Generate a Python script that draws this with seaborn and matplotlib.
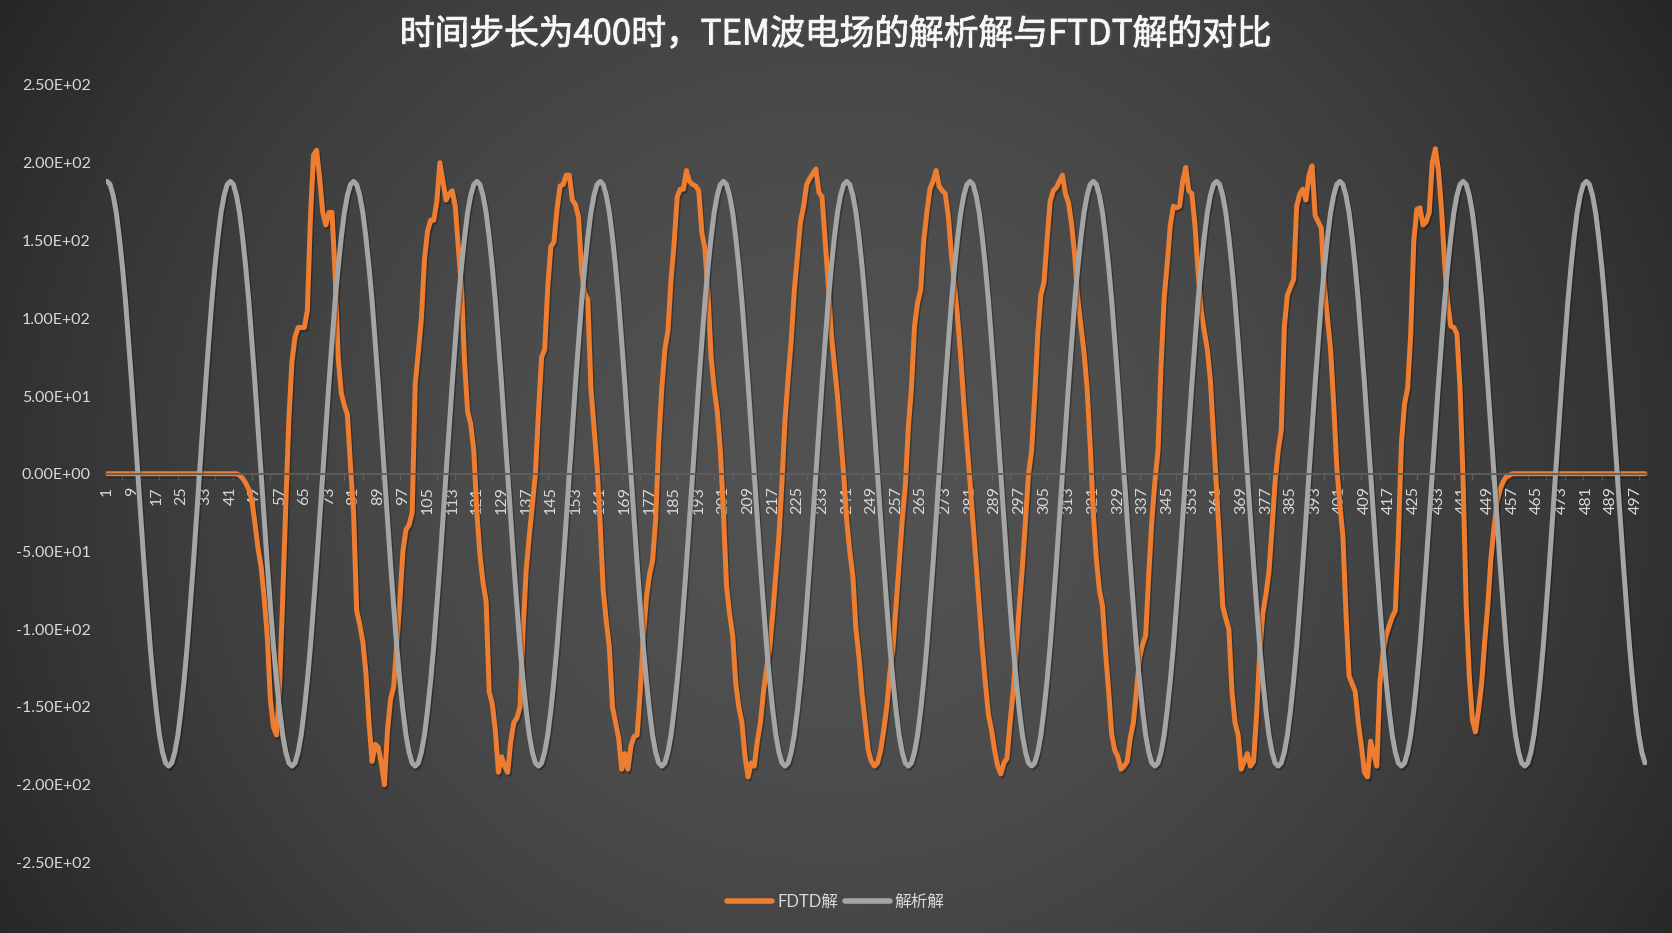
import numpy as np
import pandas as pd
import matplotlib
matplotlib.use("Agg")
import matplotlib.pyplot as plt
import matplotlib.patheffects as pe
from matplotlib.lines import Line2D
import seaborn as sns

# time step index (category axis)
steps = list(range(1, 501))

# analytic solution
analytic = [
    188, 186, 179, 168, 152, 133, 111, 85, 58, 29, 0, -29, -58, -85, -111, -133, -152, -168, -179, -186,
    -188, -186, -179, -168, -152, -133, -111, -85, -58, -29, 0, 29, 58, 85, 111, 133, 152, 168, 179, 186,
    188, 186, 179, 168, 152, 133, 111, 85, 58, 29, 0, -29, -58, -85, -111, -133, -152, -168, -179, -186,
    -188, -186, -179, -168, -152, -133, -111, -85, -58, -29, 0, 29, 58, 85, 111, 133, 152, 168, 179, 186,
    188, 186, 179, 168, 152, 133, 111, 85, 58, 29, 0, -29, -58, -85, -111, -133, -152, -168, -179, -186,
    -188, -186, -179, -168, -152, -133, -111, -85, -58, -29, 0, 29, 58, 85, 111, 133, 152, 168, 179, 186,
    188, 186, 179, 168, 152, 133, 111, 85, 58, 29, 0, -29, -58, -85, -111, -133, -152, -168, -179, -186,
    -188, -186, -179, -168, -152, -133, -111, -85, -58, -29, 0, 29, 58, 85, 111, 133, 152, 168, 179, 186,
    188, 186, 179, 168, 152, 133, 111, 85, 58, 29, 0, -29, -58, -85, -111, -133, -152, -168, -179, -186,
    -188, -186, -179, -168, -152, -133, -111, -85, -58, -29, 0, 29, 58, 85, 111, 133, 152, 168, 179, 186,
    188, 186, 179, 168, 152, 133, 111, 85, 58, 29, 0, -29, -58, -85, -111, -133, -152, -168, -179, -186,
    -188, -186, -179, -168, -152, -133, -111, -85, -58, -29, 0, 29, 58, 85, 111, 133, 152, 168, 179, 186,
    188, 186, 179, 168, 152, 133, 111, 85, 58, 29, 0, -29, -58, -85, -111, -133, -152, -168, -179, -186,
    -188, -186, -179, -168, -152, -133, -111, -85, -58, -29, 0, 29, 58, 85, 111, 133, 152, 168, 179, 186,
    188, 186, 179, 168, 152, 133, 111, 85, 58, 29, 0, -29, -58, -85, -111, -133, -152, -168, -179, -186,
    -188, -186, -179, -168, -152, -133, -111, -85, -58, -29, 0, 29, 58, 85, 111, 133, 152, 168, 179, 186,
    188, 186, 179, 168, 152, 133, 111, 85, 58, 29, 0, -29, -58, -85, -111, -133, -152, -168, -179, -186,
    -188, -186, -179, -168, -152, -133, -111, -85, -58, -29, 0, 29, 58, 85, 111, 133, 152, 168, 179, 186,
    188, 186, 179, 168, 152, 133, 111, 85, 58, 29, 0, -29, -58, -85, -111, -133, -152, -168, -179, -186,
    -188, -186, -179, -168, -152, -133, -111, -85, -58, -29, 0, 29, 58, 85, 111, 133, 152, 168, 179, 186,
    188, 186, 179, 168, 152, 133, 111, 85, 58, 29, 0, -29, -58, -85, -111, -133, -152, -168, -179, -186,
    -188, -186, -179, -168, -152, -133, -111, -85, -58, -29, 0, 29, 58, 85, 111, 133, 152, 168, 179, 186,
    188, 186, 179, 168, 152, 133, 111, 85, 58, 29, 0, -29, -58, -85, -111, -133, -152, -168, -179, -186,
    -188, -186, -179, -168, -152, -133, -111, -85, -58, -29, 0, 29, 58, 85, 111, 133, 152, 168, 179, 186,
    188, 186, 179, 168, 152, 133, 111, 85, 58, 29, 0, -29, -58, -85, -111, -133, -152, -168, -179, -186,
]

# FDTD solution
fdtd = [
    0, 0, 0, 0, 0, 0, 0, 0, 0, 0, 0, 0, 0, 0, 0, 0, 0, 0, 0, 0,
    0, 0, 0, 0, 0, 0, 0, 0, 0, 0, 0, 0, 0, 0, 0, 0, 0, 0, 0, 0,
    0, 0, 0, -1, -3, -6, -10, -17, -32, -48, -60, -80, -105, -145, -163, -168, -135, -80, -20, 35,
    72, 88, 94, 94, 94, 105, 165, 205, 208, 190, 168, 160, 168, 168, 128, 75, 52, 44, 38, 5,
    -25, -88, -97, -108, -128, -160, -185, -174, -176, -186, -200, -165, -145, -137, -110, -82, -50, -36, -33, -25,
    58, 78, 100, 138, 156, 163, 163, 175, 200, 188, 176, 180, 182, 172, 145, 120, 72, 40, 32, 15,
    -25, -52, -70, -82, -140, -148, -165, -192, -182, -188, -192, -172, -160, -157, -150, -100, -62, -40, -20, 0,
    40, 75, 80, 120, 146, 149, 170, 185, 186, 192, 192, 176, 173, 165, 130, 116, 112, 55, 30, 5,
    -32, -75, -95, -112, -150, -160, -170, -190, -180, -190, -175, -169, -168, -140, -105, -80, -65, -56, -30, 20,
    55, 80, 92, 125, 148, 178, 183, 183, 195, 188, 186, 185, 182, 155, 145, 115, 75, 55, 40, 15,
    -25, -72, -90, -104, -135, -150, -160, -182, -195, -186, -188, -172, -160, -140, -125, -112, -90, -65, -40, -5,
    35, 62, 86, 118, 140, 162, 172, 186, 190, 193, 196, 181, 178, 150, 122, 90, 70, 50, 25, 0,
    -30, -50, -66, -100, -118, -142, -160, -178, -185, -188, -186, -178, -165, -150, -128, -112, -85, -58, -30, -8,
    30, 55, 95, 110, 118, 150, 168, 183, 188, 195, 185, 182, 180, 165, 140, 120, 100, 75, 45, 20,
    -5, -32, -58, -85, -112, -135, -155, -165, -178, -188, -193, -186, -183, -160, -140, -112, -85, -60, -30, 0,
    15, 50, 90, 115, 123, 150, 175, 182, 184, 188, 192, 180, 174, 160, 140, 112, 95, 78, 55, 18,
    -25, -55, -75, -85, -115, -140, -168, -178, -182, -190, -188, -185, -170, -160, -140, -118, -110, -104, -65, -30,
    -5, 15, 70, 113, 135, 160, 172, 171, 172, 188, 197, 182, 180, 160, 130, 105, 92, 80, 60, 25,
    -10, -45, -85, -93, -100, -140, -160, -168, -190, -185, -180, -188, -185, -155, -115, -90, -78, -63, -35, -5,
    15, 28, 95, 115, 120, 125, 172, 180, 183, 176, 192, 198, 166, 162, 158, 120, 100, 80, 45, 5,
    -20, -40, -90, -130, -135, -140, -160, -175, -192, -195, -172, -180, -188, -135, -115, -104, -98, -92, -88, -40,
    20, 45, 55, 90, 150, 170, 171, 160, 162, 168, 200, 209, 195, 170, 135, 110, 95, 94, 90, 55,
    -5, -85, -130, -158, -166, -152, -135, -108, -85, -55, -35, -18, -10, -5, -2, -1, 0, 0, 0, 0,
    0, 0, 0, 0, 0, 0, 0, 0, 0, 0, 0, 0, 0, 0, 0, 0, 0, 0, 0, 0,
    0, 0, 0, 0, 0, 0, 0, 0, 0, 0, 0, 0, 0, 0, 0, 0, 0, 0, 0, 0,
]

series_names = ["FDTD解", "解析解"]
series_colors = ["#ED7D31", "#A5A5A5"]
title_text = "时间步长为400时，TEM波电场的解析解与FTDT解的对比"
y_ticks = [250, 200, 150, 100, 50, 0, -50, -100, -150, -200, -250]
x_label_steps = list(range(1, 501, 8))
x_minor_steps = list(range(6, 501, 6))

plt.rcParams["font.family"] = ["Lato", "Noto Sans CJK SC", "DejaVu Sans"]
text_color = "#D9D9D9"

df = pd.DataFrame({
    "step": steps + steps,
    "E": fdtd + analytic,
    "series": [series_names[0]] * len(fdtd) + [series_names[1]] * len(analytic),
})

W, H = 1672, 933
fig = plt.figure(figsize=(W / 100, H / 100), dpi=100)

# excel style radial background
bg = fig.add_axes([0, 0, 1, 1], zorder=-10)
yy, xx = np.mgrid[0:H, 0:W]
r = np.sqrt(((xx - W * 0.5) / (W * 0.45)) ** 2 + ((yy - H * 0.52) / (H * 0.75)) ** 2)
shade = np.clip(82 - 27 * r ** 1.8, 38, 90) / 255.0
bg.imshow(np.dstack([shade, shade, shade]), aspect="auto", extent=[0, 1, 0, 1])
bg.axis("off")

ax = fig.add_axes([105.5 / W, (H - 862.5) / H, 1541 / W, 777.5 / H])
ax.set_facecolor("none")
ax.set_axisbelow(True)

sns.lineplot(data=df, x="step", y="E", hue="series", hue_order=series_names,
             palette=dict(zip(series_names, series_colors)), estimator=None,
             linewidth=3.6, legend=False, ax=ax)
for ln in ax.get_lines():
    ln.set_solid_capstyle("round")
    ln.set_solid_joinstyle("round")
    ln.set_path_effects([pe.SimpleLineShadow(offset=(1, -1.5), alpha=0.3), pe.Normal()])

ax.set_xlim(0.5, 500.5)
ax.set_ylim(-250, 250)
ax.set_xlabel("")
ax.set_ylabel("")

ax.set_yticks(y_ticks)
ax.set_yticklabels([f"{v:.2E}" for v in y_ticks])
ax.tick_params(axis="y", length=0, pad=10.5, labelsize=11.5, labelcolor=text_color)

ax.set_xticks(x_label_steps)
ax.set_xticklabels([str(s) for s in x_label_steps])
ax.set_xticks(x_minor_steps, minor=True)
ax.tick_params(axis="x", which="major", length=0, pad=9, labelsize=11.5,
               labelcolor=text_color, labelrotation=90)
ax.tick_params(axis="x", which="minor", length=4, width=1, color="#606060", direction="out")

for side in ["top", "right", "left"]:
    ax.spines[side].set_visible(False)
ax.spines["bottom"].set_position(("data", 0))
ax.spines["bottom"].set_color("#5E5E5E")
ax.spines["bottom"].set_linewidth(1.3)
ax.grid(False)

fig.text(0.5, 1 - 35 / H, title_text, ha="center", va="center", fontsize=25,
         color="#F7F7F7", family=["Noto Sans CJK SC", "DejaVu Sans"],
         path_effects=[pe.withStroke(linewidth=0.8, foreground="#F7F7F7"),
                       pe.SimplePatchShadow(offset=(2, -2), alpha=0.7), pe.Normal()])

handles = [Line2D([0], [0], color=c, linewidth=4, solid_capstyle="round") for c in series_colors]
fig.legend(handles, series_names, loc="center", bbox_to_anchor=(0.5, 1 - 902 / H), ncol=2,
           frameon=False, fontsize=12, labelcolor=text_color, handlelength=2.7,
           handletextpad=0.3, columnspacing=0.4)

fig.savefig("out.png", dpi=100)
